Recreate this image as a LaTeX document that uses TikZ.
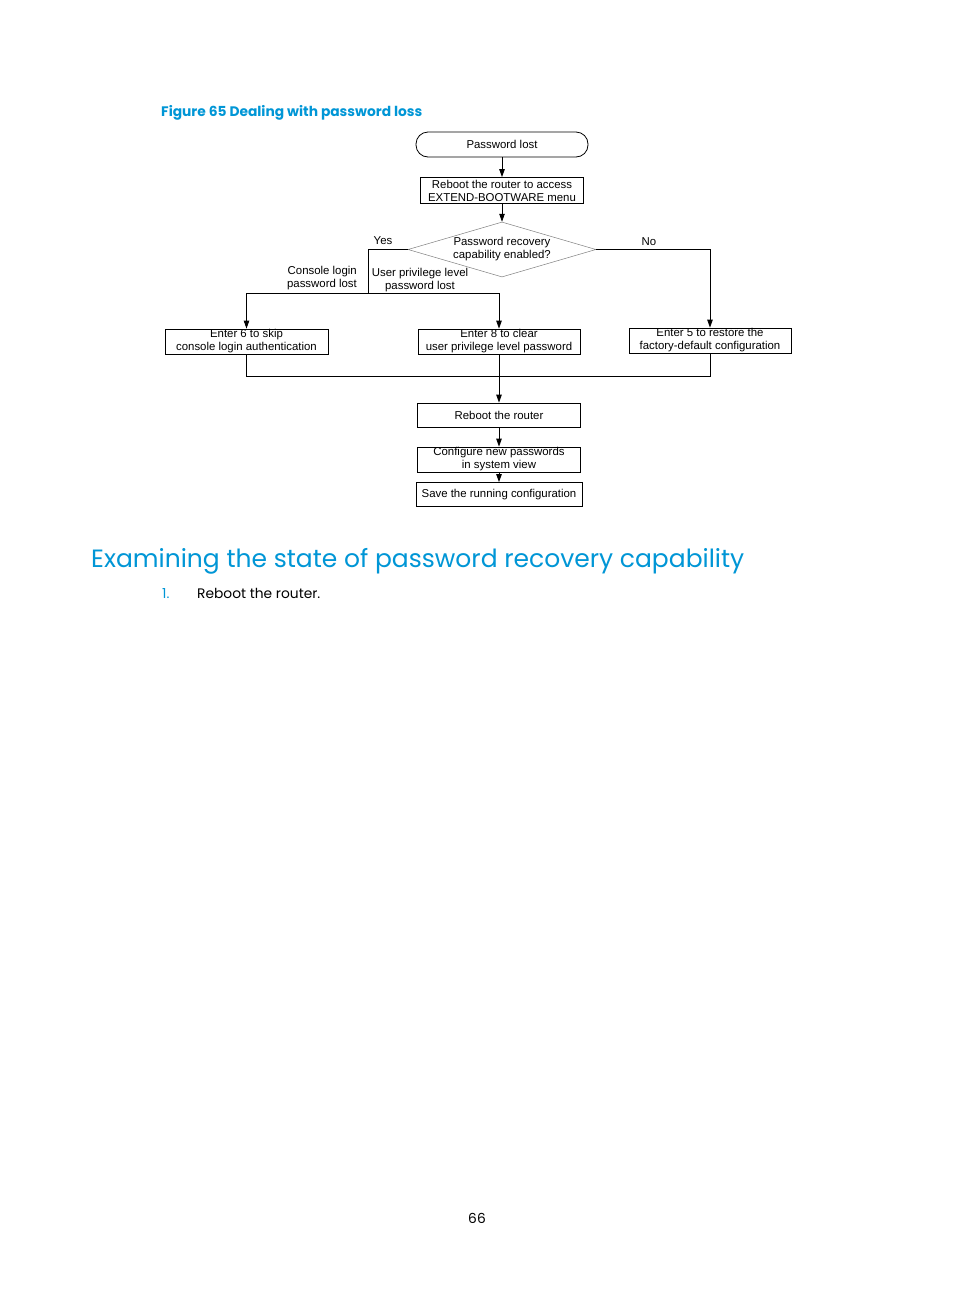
\documentclass[tikz,border=0pt]{standalone}
\usepackage{fontspec}
\setmainfont{Liberation Sans}
\newfontfamily\hpfont{Poppins}
\usetikzlibrary{arrows.meta,shapes.geometric}
\definecolor{hpblue}{RGB}{0,150,214}
\begin{document}
\begin{tikzpicture}[x=1pt,y=-1pt,
  box/.style={draw, line width=0.8pt, inner sep=0pt, align=center, font=\fontsize{11.4}{13}\selectfont},
  lbl/.style={inner sep=0pt, align=center, font=\fontsize{11.4}{13}\selectfont},
  arr/.style={-{Triangle[length=8pt,width=5.5pt]}, line width=0.8pt},
  ln/.style={line width=0.8pt}]
\useasboundingbox[fill=white] (0,0) rectangle (954,1296);

\node[anchor=base west, inner sep=0pt, text=hpblue, font=\hpfont\bfseries\fontsize{13.8}{16}\selectfont] (cap) at (161,116) {Figure 65 Dealing with password loss};

\node[box, rounded corners=12pt, minimum width=172pt, minimum height=25pt] (pl) at (502,144.5) {Password lost};
\node[box, minimum width=163pt, minimum height=26pt] (rb) at (502,190.5) {Reboot the router to access\\EXTEND-BOOTWARE menu};
\node[box, diamond, draw=gray, line width=0.5pt, aspect=3.4, minimum width=188pt, minimum height=55pt] (dia) at (502,249.5) {Password recovery\\capability enabled?};
\node[box, minimum width=163pt, minimum height=25pt] (b6) at (246.5,341.5) {Enter 6 to skip\\console login authentication};
\node[box, minimum width=162pt, minimum height=25pt] (b8) at (499,341.5) {Enter 8 to clear\\user privilege level password};
\node[box, minimum width=162pt, minimum height=25pt] (b5) at (710,340.5) {Enter 5 to restore the\\factory-default configuration};
\node[box, minimum width=163pt, minimum height=24pt] (rr) at (499,415) {Reboot the router};
\node[box, minimum width=163pt, minimum height=25pt] (cn) at (499,459.5) {Configure new passwords\\in system view};
\node[box, minimum width=166pt, minimum height=24pt] (sv) at (499,494.5) {Save the running configuration};

\node[lbl] (yes) at (383,240.5) {Yes};
\node[lbl] (no) at (649,241.5) {No};
\node[lbl, align=right, anchor=east] (cl) at (357,278.5) {Console login\\password lost};
\node[lbl] (up) at (420,280.5) {User privilege level\\password lost};

\coordinate (split) at (368,293);
\coordinate (m) at (499,376);

\draw[arr] (pl) -- (rb);
\draw[arr] (rb) -- (dia.north);
\draw[ln] (dia.west) -| (split);
\draw[arr] (split) -| (b6.north);
\draw[arr] (split) -| (b8.north);
\draw[arr] (dia.east) -| (b5.north);
\draw[ln] (b6.south) |- (m);
\draw[ln] (b5.south) |- (m);
\draw[arr] (b8.south) -- (rr.north);
\draw[arr] (rr) -- (cn);
\draw[arr] (cn) -- (sv);

\node[anchor=base west, inner sep=0pt, text=hpblue, font=\hpfont\fontsize{25}{30}\selectfont] (h) at (91,567) {Examining the state of password recovery capability};
\node[anchor=base west, inner sep=0pt, text=hpblue, font=\hpfont\fontsize{13.8}{16}\selectfont] (n1) at (162,598) {1.};
\node[anchor=base west, inner sep=0pt, font=\hpfont\fontsize{13.8}{16}\selectfont] (s1) at (197,598) {Reboot the router.};
\node[anchor=base, inner sep=0pt, font=\hpfont\fontsize{13.8}{16}\selectfont] (pg) at (477,1223) {66};
\end{tikzpicture}
\end{document}
